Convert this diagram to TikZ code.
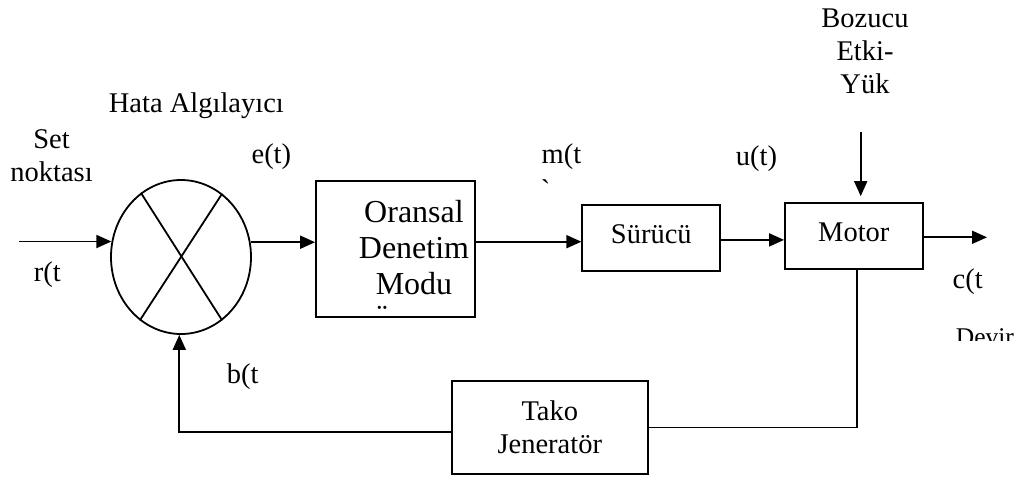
\documentclass[tikz,border=0pt]{standalone}
\usepackage{fontspec}
\setmainfont{Liberation Serif}
\newfontfamily\duz{Liberation Serif}
\usetikzlibrary{arrows.meta}
\usetikzlibrary{shapes.geometric}
\tikzset{ok/.style={-{Triangle[length=15pt,width=13pt]}}}
\tikzset{blok/.style={draw, rectangle, inner sep=0pt}}
\tikzset{yazi/.style={inner sep=0pt, align=center, font=\fontsize{28.5}{33}\selectfont}}
\tikzset{buyuk/.style={inner sep=0pt, align=center, font=\fontsize{32}{35.7}\selectfont}}
\tikzset{tekst/.style={text height=20pt, text depth=9pt}}

\begin{document}
\begin{tikzpicture}[x=1pt, y=-1pt, line width=1.8pt]
		\useasboundingbox (0,0) rectangle (1014,480);
		% bloklar
		\node[draw, ellipse, minimum width=140pt, minimum height=154pt, inner sep=0pt] (sum) at (181,257) {};
		\draw (sum.122.5) -- (sum.-57.5);
		\draw (sum.57.5) -- (sum.237.5);
		\node[blok, minimum width=159pt, minimum height=136pt] (oran) at (395.5,249) {};
		\node[buyuk, anchor=north] (oranyazi) at (414,199.8) {Oransal\\Denetim\\Modu};
		\node[buyuk, anchor=base west] (nokta) at (376,326) {¨};
		\node[blok, yazi, tekst, minimum width=138pt, minimum height=65.7pt] (sur) at (651.3,237.9) {Sürücü};
		\node[blok, yazi, tekst, minimum width=137.7pt, minimum height=66.3pt] (mot) at (853.8,236.2) {Motor};
		\node[blok, yazi, minimum width=196.3pt, minimum height=93pt] (tak) at (549.8,427.5) {Tako\\Jeneratör};
		% etiketler
		\node[yazi, anchor=north] (set) at (51.5,129) {Set\\noktası};
		\node[yazi, anchor=base west] (hata) at (108,112) {Hata Algılayıcı};
		\node[yazi, anchor=base west] (et) at (250.7,163) {e(t)};
		\node[yazi, anchor=base west] (mt) at (540.7,163.3) {m(t};
		\node[yazi, anchor=base west] (mtk) at (540,199.5) {\duz `};
		\node[yazi, anchor=base west] (ut) at (735,165) {u(t)};
		\node[yazi, anchor=north] (boz) at (865,7.8) {Bozucu\\Etki-\\Yük};
		\node[yazi, anchor=base west] (ct) at (951.7,288.3) {c(t};
		\node[yazi, anchor=base west] (rt) at (33,281.7) {r(t};
		\node[yazi, anchor=base west] (bt) at (226,383.3) {b(t};
		\begin{scope}
			\clip (940,300) rectangle (1014,340);
			\node[yazi, font=\fontsize{25.5}{30}\selectfont, anchor=base west] (devir) at (955,345.5) {Devir};
		\end{scope}
		% baglantilar
		\coordinate (rin) at (19,241.5);
		\coordinate (mgir) at ([yshift=-3.8pt]sur.west);
		\coordinate (sgir) at ([yshift=-2pt]sur.east);
		\coordinate (cout) at (987,237.3);
		\coordinate (yuk) at (860.7,131.7);
		\coordinate (tcik) at ([xshift=3pt]mot.south);
		\coordinate (tgir) at ([yshift=-4.2pt]tak.west);
		\coordinate (bgir) at ([xshift=-1.7pt]sum.south);
		\draw[ok] (rin) -- (rin -| sum.168);
		\draw[ok] (sum.12) -- (sum.12 -| oran.west);
		\draw[ok] (oran.east |- mgir) -- (mgir);
		\draw[ok] (sgir) -- (sgir -| mot.west);
		\draw[ok] (mot.east |- cout) -- (cout);
		\draw[ok, shorten >=6pt] (yuk) -- (yuk |- mot.north);
		\draw (tcik) |- (tak.east);
		\draw[ok] (tgir) -| (bgir);
\end{tikzpicture}
\end{document}
